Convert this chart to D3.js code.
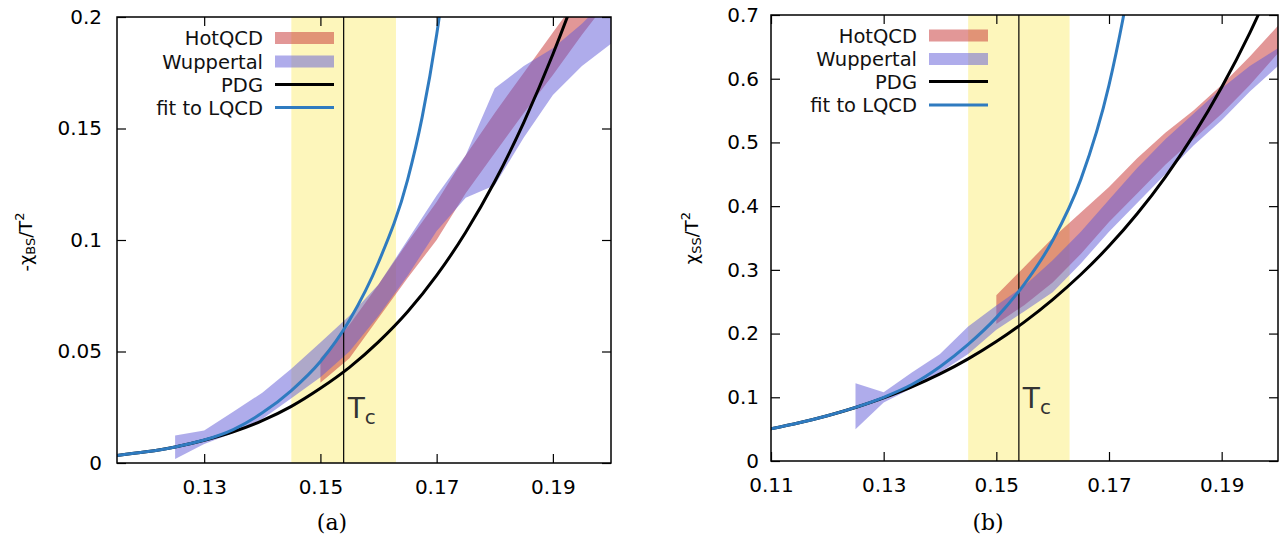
<!DOCTYPE html>
<html>
<head>
<meta charset="utf-8">
<script src="https://cdn.jsdelivr.net/npm/d3@7"></script>
<style>
  body { margin: 0; background: #fff; }
  svg { display: block; font-family: "DejaVu Sans", sans-serif; }
</style>
</head>
<body>
<svg id="chart" width="1282" height="538"></svg>
<script>
// ---- panel (a): -chi_BS / T^2 ----
const bsLineT = [0.115, 0.12, 0.125, 0.13, 0.135, 0.14, 0.145, 0.15, 0.155, 0.16, 0.165, 0.17, 0.175, 0.18, 0.185, 0.19, 0.195, 0.2];
const bsPdg   = [0.0034, 0.0050, 0.0072, 0.0102, 0.0140, 0.0190, 0.0254, 0.0335, 0.0429, 0.0543, 0.0678, 0.0841, 0.1035, 0.1262, 0.1528, 0.1833, 0.2181, 0.2580];
const bsFitT  = [0.115, 0.12, 0.125, 0.13, 0.135, 0.14, 0.145, 0.15, 0.155, 0.16, 0.165, 0.1675, 0.17, 0.1725];
const bsFit   = [0.0034, 0.0050, 0.0072, 0.0103, 0.0150, 0.0225, 0.0325, 0.0455, 0.0640, 0.0900, 0.1270, 0.1550, 0.1920, 0.2400];
const bsHotT  = [0.15, 0.155, 0.16, 0.165, 0.17, 0.175, 0.18, 0.185, 0.19, 0.195, 0.2];
const bsHotLo = [0.036, 0.047, 0.065, 0.083, 0.100, 0.121, 0.139, 0.157, 0.174, 0.192, 0.209];
const bsHotHi = [0.047, 0.062, 0.080, 0.099, 0.117, 0.138, 0.157, 0.175, 0.193, 0.211, 0.229];
const bsWupT  = [0.125, 0.13, 0.135, 0.14, 0.145, 0.15, 0.155, 0.16, 0.165, 0.17, 0.175, 0.18, 0.185, 0.19, 0.195, 0.2];
const bsWupLo = [0.0018, 0.0085, 0.0135, 0.0197, 0.0290, 0.0385, 0.0500, 0.0660, 0.0840, 0.1040, 0.1190, 0.1246, 0.1460, 0.1650, 0.1780, 0.1880];
const bsWupHi = [0.0123, 0.0146, 0.0230, 0.0315, 0.0423, 0.0540, 0.0660, 0.0800, 0.1000, 0.1200, 0.1380, 0.1680, 0.1780, 0.1860, 0.1970, 0.2100];

// ---- panel (b): chi_SS / T^2 ----
const ssLineT = [0.11, 0.115, 0.12, 0.125, 0.13, 0.135, 0.14, 0.145, 0.15, 0.155, 0.16, 0.165, 0.17, 0.175, 0.18, 0.185, 0.19, 0.195, 0.2];
const ssPdg   = [0.0505, 0.0600, 0.0711, 0.0840, 0.0990, 0.1163, 0.1366, 0.1603, 0.1875, 0.2184, 0.2534, 0.2927, 0.3373, 0.3880, 0.4457, 0.5115, 0.5865, 0.6720, 0.7695];
const ssFitT  = [0.11, 0.115, 0.12, 0.125, 0.13, 0.135, 0.14, 0.145, 0.15, 0.155, 0.16, 0.165, 0.17, 0.1725, 0.175];
const ssFit   = [0.0505, 0.0600, 0.0711, 0.0842, 0.1000, 0.1200, 0.1480, 0.1830, 0.2250, 0.2780, 0.3460, 0.4420, 0.5900, 0.6950, 0.8200];
const ssHotT  = [0.15, 0.155, 0.16, 0.165, 0.17, 0.175, 0.18, 0.185, 0.19, 0.195, 0.2];
const ssHotLo = [0.215, 0.245, 0.280, 0.325, 0.375, 0.420, 0.465, 0.505, 0.545, 0.590, 0.640];
const ssHotHi = [0.260, 0.305, 0.350, 0.390, 0.430, 0.475, 0.515, 0.550, 0.590, 0.635, 0.683];
const ssWupT  = [0.125, 0.13, 0.135, 0.14, 0.145, 0.15, 0.155, 0.16, 0.165, 0.17, 0.175, 0.18, 0.185, 0.19, 0.195, 0.2];
const ssWupLo = [0.050, 0.092, 0.114, 0.139, 0.168, 0.206, 0.235, 0.265, 0.310, 0.360, 0.405, 0.450, 0.495, 0.535, 0.580, 0.620];
const ssWupHi = [0.122, 0.108, 0.139, 0.168, 0.211, 0.244, 0.275, 0.315, 0.360, 0.410, 0.460, 0.505, 0.545, 0.585, 0.620, 0.648];

// shared
const tc = 0.154;
const tcBand = [0.145, 0.163];
const legendNames = ["HotQCD", "Wuppertal", "PDG", "fit to LQCD"];
const xTicksA = [0.13, 0.15, 0.17, 0.19];
const yTicksA = [0, 0.05, 0.1, 0.15, 0.2];
const xTicksB = [0.11, 0.13, 0.15, 0.17, 0.19];
const yTicksB = [0, 0.1, 0.2, 0.3, 0.4, 0.5, 0.6, 0.7];

const hotColor = "rgb(200,55,55)", hotOp = 0.52;
const wupColor = "rgb(95,90,215)", wupOp = 0.5;
const fitColor = "#2f7bc0";

const svg = d3.select("#chart");

function zip(t, a) { return t.map((d, i) => [d, a[i]]); }
function zip3(t, lo, hi) { return t.map((d, i) => [d, lo[i], hi[i]]); }

function drawPanel(cfg, id) {
  const x = d3.scaleLinear().domain(cfg.xDom).range([cfg.left, cfg.right]);
  const y = d3.scaleLinear().domain(cfg.yDom).range([cfg.bottom, cfg.top]);
  const g = svg.append("g");

  g.append("clipPath").attr("id", "clip" + id)
    .append("rect").attr("x", cfg.left).attr("y", cfg.top)
    .attr("width", cfg.right - cfg.left).attr("height", cfg.bottom - cfg.top);

  const plot = g.append("g").attr("clip-path", `url(#clip${id})`);

  // T_c uncertainty band
  plot.append("rect")
    .attr("x", x(tcBand[0])).attr("width", x(tcBand[1]) - x(tcBand[0]))
    .attr("y", cfg.top).attr("height", cfg.bottom - cfg.top)
    .attr("fill", "#fdf6bb");

  const area = d3.area().x(d => x(d[0])).y0(d => y(d[1])).y1(d => y(d[2]));
  plot.append("path").datum(zip3(cfg.hotT, cfg.hotLo, cfg.hotHi))
    .attr("d", area).attr("fill", hotColor).attr("fill-opacity", hotOp);
  plot.append("path").datum(zip3(cfg.wupT, cfg.wupLo, cfg.wupHi))
    .attr("d", area).attr("fill", wupColor).attr("fill-opacity", wupOp);

  plot.append("line")
    .attr("x1", x(tc)).attr("x2", x(tc)).attr("y1", cfg.top).attr("y2", cfg.bottom)
    .attr("stroke", "#000").attr("stroke-width", 1.2);

  const line = d3.line().x(d => x(d[0])).y(d => y(d[1])).curve(d3.curveMonotoneX);
  plot.append("path").datum(zip(cfg.lineT, cfg.pdg))
    .attr("d", line).attr("fill", "none").attr("stroke", "#000").attr("stroke-width", 3);
  plot.append("path").datum(zip(cfg.fitT, cfg.fit))
    .attr("d", line).attr("fill", "none").attr("stroke", fitColor).attr("stroke-width", 3);

  // T_c label
  const tcText = g.append("text")
    .attr("x", x(tc) + 4).attr("y", y(cfg.tcLabelY))
    .attr("font-size", 28).attr("fill", "#333");
  tcText.append("tspan").text("T");
  tcText.append("tspan").attr("font-size", 20).attr("dy", 6).text("c");

  // axes with inward ticks
  const fmt = d => String(d);
  g.append("g").attr("transform", `translate(0,${cfg.bottom})`)
    .call(d3.axisBottom(x).tickValues(cfg.xTicks).tickFormat(fmt).tickSizeInner(-9).tickSizeOuter(0).tickPadding(17));
  g.append("g").attr("transform", `translate(0,${cfg.top})`)
    .call(d3.axisTop(x).tickValues(cfg.xTicks).tickFormat("").tickSizeInner(-9).tickSizeOuter(0));
  g.append("g").attr("transform", `translate(${cfg.left},0)`)
    .call(d3.axisLeft(y).tickValues(cfg.yTicks).tickFormat(fmt).tickSizeInner(-9).tickSizeOuter(0).tickPadding(cfg.yPad));
  g.append("g").attr("transform", `translate(${cfg.right},0)`)
    .call(d3.axisRight(y).tickValues(cfg.yTicks).tickFormat("").tickSizeInner(-9).tickSizeOuter(0));
  g.selectAll(".domain").remove();
  g.selectAll(".tick line").attr("stroke", "#000").attr("stroke-width", 1.2);
  g.selectAll(".tick text").attr("font-size", 20).attr("fill", "#000")
    .attr("font-family", "DejaVu Sans, sans-serif");

  g.append("rect")
    .attr("x", cfg.left).attr("y", cfg.top)
    .attr("width", cfg.right - cfg.left).attr("height", cfg.bottom - cfg.top)
    .attr("fill", "none").attr("stroke", "#000").attr("stroke-width", 1.5);

  // y label
  const yl = g.append("text")
    .attr("transform", `translate(${cfg.yLabelX},${(cfg.top + cfg.bottom) / 2 + cfg.yLabelDy}) rotate(-90)`)
    .attr("text-anchor", "middle").attr("font-size", 18).attr("fill", "#000");
  yl.append("tspan").text(cfg.yLabelPre + "χ");
  yl.append("tspan").attr("font-size", 13).attr("dy", 3).text(cfg.yLabelSub);
  yl.append("tspan").attr("dy", -3).text("/T");
  yl.append("tspan").attr("font-size", 13).attr("dy", -8).text("2");

  // caption
  g.append("text")
    .attr("x", cfg.capX).attr("y", 530)
    .attr("text-anchor", "middle").attr("font-size", 22)
    .attr("font-family", "DejaVu Serif, serif").text(cfg.caption);

  // legend
  const leg = g.append("g");
  legendNames.forEach((name, i) => {
    const cy = cfg.legY[i];
    leg.append("text").attr("x", cfg.legTextX).attr("y", cy)
      .attr("dy", "0.36em").attr("text-anchor", "end")
      .attr("font-size", 19.5).attr("fill", "#111").text(name);
    if (i < 2) {
      leg.append("rect")
        .attr("x", cfg.legSwX).attr("y", cy - 6).attr("width", 59).attr("height", 12)
        .attr("fill", i === 0 ? hotColor : wupColor)
        .attr("fill-opacity", i === 0 ? hotOp : wupOp);
    } else {
      leg.append("line")
        .attr("x1", cfg.legSwX).attr("x2", cfg.legSwX + 59).attr("y1", cy).attr("y2", cy)
        .attr("stroke", i === 2 ? "#000" : fitColor).attr("stroke-width", 3.2);
    }
  });
}

drawPanel({
  left: 117, right: 611, top: 17, bottom: 463,
  xDom: [0.115, 0.2], yDom: [0, 0.2],
  xTicks: xTicksA, yTicks: yTicksA, yPad: 15,
  lineT: bsLineT, pdg: bsPdg, fitT: bsFitT, fit: bsFit,
  hotT: bsHotT, hotLo: bsHotLo, hotHi: bsHotHi,
  wupT: bsWupT, wupLo: bsWupLo, wupHi: bsWupHi,
  tcLabelY: 0.020,
  yLabelX: 32, yLabelDy: 2, yLabelPre: "-", yLabelSub: "BS",
  caption: "(a)", capX: 332,
  legTextX: 263, legSwX: 275, legY: [38, 61.5, 84.5, 107.5]
}, "a");

drawPanel({
  left: 771, right: 1278, top: 15, bottom: 461,
  xDom: [0.11, 0.2], yDom: [0, 0.7],
  xTicks: xTicksB, yTicks: yTicksB, yPad: 12,
  lineT: ssLineT, pdg: ssPdg, fitT: ssFitT, fit: ssFit,
  hotT: ssHotT, hotLo: ssHotLo, hotHi: ssHotHi,
  wupT: ssWupT, wupLo: ssWupLo, wupHi: ssWupHi,
  tcLabelY: 0.083,
  yLabelX: 698, yLabelDy: 0, yLabelPre: "", yLabelSub: "SS",
  caption: "(b)", capX: 988,
  legTextX: 917, legSwX: 929, legY: [35.5, 59, 81.5, 105]
}, "b");
</script>
</body>
</html>
